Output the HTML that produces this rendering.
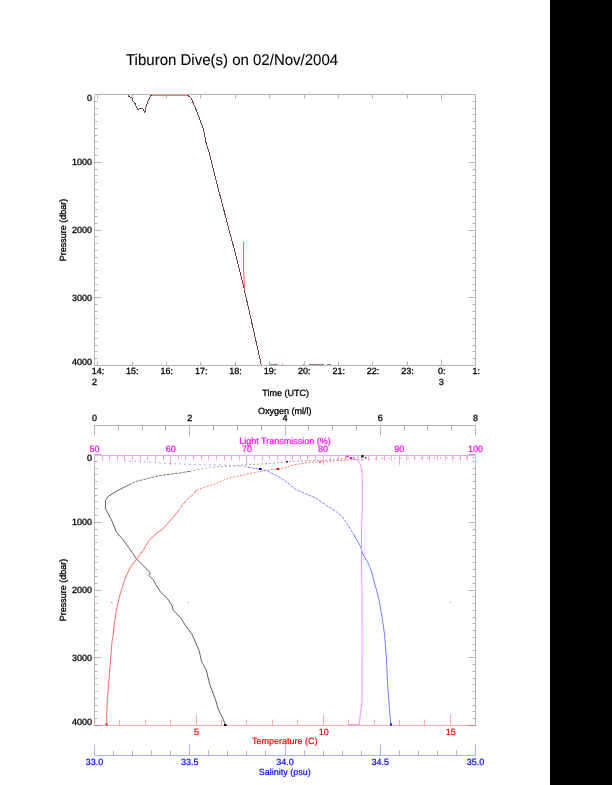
<!DOCTYPE html>
<html><head><meta charset="utf-8"><style>
html,body{margin:0;padding:0;background:#fff;}
body{width:612px;height:785px;overflow:hidden;position:relative;}
svg{position:absolute;left:0;top:0;will-change:transform;}
text{font-family:"Liberation Sans",sans-serif;text-rendering:geometricPrecision;}
</style></head><body>
<svg width="612" height="785" viewBox="0 0 612 785">
<rect x="0" y="0" width="612" height="785" fill="#fff"/>
<rect x="550" y="0" width="62" height="785" fill="#000"/>
<text transform="translate(126,64.8) scale(0.968,1)" x="0" y="0" font-size="15.5" fill="#000" stroke="#000" stroke-width="0.1">Tiburon Dive(s) on 02/Nov/2004</text>
<line x1="94.5" y1="94.5" x2="475.5" y2="94.5" stroke="#b4b4b4" stroke-width="1" />
<line x1="94.5" y1="365.5" x2="475.5" y2="365.5" stroke="#b4b4b4" stroke-width="1" />
<line x1="94.5" y1="94.5" x2="94.5" y2="365.5" stroke="#b4b4b4" stroke-width="1" />
<line x1="475.5" y1="94.5" x2="475.5" y2="365.5" stroke="#b4b4b4" stroke-width="1" />
<line x1="94.5" y1="94.5" x2="101.5" y2="94.5" stroke="#b4b4b4" stroke-width="1" />
<line x1="468.5" y1="94.5" x2="475.5" y2="94.5" stroke="#b4b4b4" stroke-width="1" />
<line x1="94.5" y1="101.5" x2="97.5" y2="101.5" stroke="#b4b4b4" stroke-width="1" />
<line x1="472.5" y1="101.5" x2="475.5" y2="101.5" stroke="#b4b4b4" stroke-width="1" />
<line x1="94.5" y1="108.5" x2="97.5" y2="108.5" stroke="#b4b4b4" stroke-width="1" />
<line x1="472.5" y1="108.5" x2="475.5" y2="108.5" stroke="#b4b4b4" stroke-width="1" />
<line x1="94.5" y1="114.5" x2="97.5" y2="114.5" stroke="#b4b4b4" stroke-width="1" />
<line x1="472.5" y1="114.5" x2="475.5" y2="114.5" stroke="#b4b4b4" stroke-width="1" />
<line x1="94.5" y1="121.5" x2="97.5" y2="121.5" stroke="#b4b4b4" stroke-width="1" />
<line x1="472.5" y1="121.5" x2="475.5" y2="121.5" stroke="#b4b4b4" stroke-width="1" />
<line x1="94.5" y1="128.5" x2="97.5" y2="128.5" stroke="#b4b4b4" stroke-width="1" />
<line x1="472.5" y1="128.5" x2="475.5" y2="128.5" stroke="#b4b4b4" stroke-width="1" />
<line x1="94.5" y1="135.5" x2="97.5" y2="135.5" stroke="#b4b4b4" stroke-width="1" />
<line x1="472.5" y1="135.5" x2="475.5" y2="135.5" stroke="#b4b4b4" stroke-width="1" />
<line x1="94.5" y1="141.5" x2="97.5" y2="141.5" stroke="#b4b4b4" stroke-width="1" />
<line x1="472.5" y1="141.5" x2="475.5" y2="141.5" stroke="#b4b4b4" stroke-width="1" />
<line x1="94.5" y1="148.5" x2="97.5" y2="148.5" stroke="#b4b4b4" stroke-width="1" />
<line x1="472.5" y1="148.5" x2="475.5" y2="148.5" stroke="#b4b4b4" stroke-width="1" />
<line x1="94.5" y1="155.5" x2="97.5" y2="155.5" stroke="#b4b4b4" stroke-width="1" />
<line x1="472.5" y1="155.5" x2="475.5" y2="155.5" stroke="#b4b4b4" stroke-width="1" />
<line x1="94.5" y1="162.5" x2="101.5" y2="162.5" stroke="#b4b4b4" stroke-width="1" />
<line x1="468.5" y1="162.5" x2="475.5" y2="162.5" stroke="#b4b4b4" stroke-width="1" />
<line x1="94.5" y1="169.5" x2="97.5" y2="169.5" stroke="#b4b4b4" stroke-width="1" />
<line x1="472.5" y1="169.5" x2="475.5" y2="169.5" stroke="#b4b4b4" stroke-width="1" />
<line x1="94.5" y1="175.5" x2="97.5" y2="175.5" stroke="#b4b4b4" stroke-width="1" />
<line x1="472.5" y1="175.5" x2="475.5" y2="175.5" stroke="#b4b4b4" stroke-width="1" />
<line x1="94.5" y1="182.5" x2="97.5" y2="182.5" stroke="#b4b4b4" stroke-width="1" />
<line x1="472.5" y1="182.5" x2="475.5" y2="182.5" stroke="#b4b4b4" stroke-width="1" />
<line x1="94.5" y1="189.5" x2="97.5" y2="189.5" stroke="#b4b4b4" stroke-width="1" />
<line x1="472.5" y1="189.5" x2="475.5" y2="189.5" stroke="#b4b4b4" stroke-width="1" />
<line x1="94.5" y1="196.5" x2="97.5" y2="196.5" stroke="#b4b4b4" stroke-width="1" />
<line x1="472.5" y1="196.5" x2="475.5" y2="196.5" stroke="#b4b4b4" stroke-width="1" />
<line x1="94.5" y1="202.5" x2="97.5" y2="202.5" stroke="#b4b4b4" stroke-width="1" />
<line x1="472.5" y1="202.5" x2="475.5" y2="202.5" stroke="#b4b4b4" stroke-width="1" />
<line x1="94.5" y1="209.5" x2="97.5" y2="209.5" stroke="#b4b4b4" stroke-width="1" />
<line x1="472.5" y1="209.5" x2="475.5" y2="209.5" stroke="#b4b4b4" stroke-width="1" />
<line x1="94.5" y1="216.5" x2="97.5" y2="216.5" stroke="#b4b4b4" stroke-width="1" />
<line x1="472.5" y1="216.5" x2="475.5" y2="216.5" stroke="#b4b4b4" stroke-width="1" />
<line x1="94.5" y1="223.5" x2="97.5" y2="223.5" stroke="#b4b4b4" stroke-width="1" />
<line x1="472.5" y1="223.5" x2="475.5" y2="223.5" stroke="#b4b4b4" stroke-width="1" />
<line x1="94.5" y1="230.5" x2="101.5" y2="230.5" stroke="#b4b4b4" stroke-width="1" />
<line x1="468.5" y1="230.5" x2="475.5" y2="230.5" stroke="#b4b4b4" stroke-width="1" />
<line x1="94.5" y1="236.5" x2="97.5" y2="236.5" stroke="#b4b4b4" stroke-width="1" />
<line x1="472.5" y1="236.5" x2="475.5" y2="236.5" stroke="#b4b4b4" stroke-width="1" />
<line x1="94.5" y1="243.5" x2="97.5" y2="243.5" stroke="#b4b4b4" stroke-width="1" />
<line x1="472.5" y1="243.5" x2="475.5" y2="243.5" stroke="#b4b4b4" stroke-width="1" />
<line x1="94.5" y1="250.5" x2="97.5" y2="250.5" stroke="#b4b4b4" stroke-width="1" />
<line x1="472.5" y1="250.5" x2="475.5" y2="250.5" stroke="#b4b4b4" stroke-width="1" />
<line x1="94.5" y1="257.5" x2="97.5" y2="257.5" stroke="#b4b4b4" stroke-width="1" />
<line x1="472.5" y1="257.5" x2="475.5" y2="257.5" stroke="#b4b4b4" stroke-width="1" />
<line x1="94.5" y1="263.5" x2="97.5" y2="263.5" stroke="#b4b4b4" stroke-width="1" />
<line x1="472.5" y1="263.5" x2="475.5" y2="263.5" stroke="#b4b4b4" stroke-width="1" />
<line x1="94.5" y1="270.5" x2="97.5" y2="270.5" stroke="#b4b4b4" stroke-width="1" />
<line x1="472.5" y1="270.5" x2="475.5" y2="270.5" stroke="#b4b4b4" stroke-width="1" />
<line x1="94.5" y1="277.5" x2="97.5" y2="277.5" stroke="#b4b4b4" stroke-width="1" />
<line x1="472.5" y1="277.5" x2="475.5" y2="277.5" stroke="#b4b4b4" stroke-width="1" />
<line x1="94.5" y1="284.5" x2="97.5" y2="284.5" stroke="#b4b4b4" stroke-width="1" />
<line x1="472.5" y1="284.5" x2="475.5" y2="284.5" stroke="#b4b4b4" stroke-width="1" />
<line x1="94.5" y1="290.5" x2="97.5" y2="290.5" stroke="#b4b4b4" stroke-width="1" />
<line x1="472.5" y1="290.5" x2="475.5" y2="290.5" stroke="#b4b4b4" stroke-width="1" />
<line x1="94.5" y1="297.5" x2="101.5" y2="297.5" stroke="#b4b4b4" stroke-width="1" />
<line x1="468.5" y1="297.5" x2="475.5" y2="297.5" stroke="#b4b4b4" stroke-width="1" />
<line x1="94.5" y1="304.5" x2="97.5" y2="304.5" stroke="#b4b4b4" stroke-width="1" />
<line x1="472.5" y1="304.5" x2="475.5" y2="304.5" stroke="#b4b4b4" stroke-width="1" />
<line x1="94.5" y1="311.5" x2="97.5" y2="311.5" stroke="#b4b4b4" stroke-width="1" />
<line x1="472.5" y1="311.5" x2="475.5" y2="311.5" stroke="#b4b4b4" stroke-width="1" />
<line x1="94.5" y1="318.5" x2="97.5" y2="318.5" stroke="#b4b4b4" stroke-width="1" />
<line x1="472.5" y1="318.5" x2="475.5" y2="318.5" stroke="#b4b4b4" stroke-width="1" />
<line x1="94.5" y1="324.5" x2="97.5" y2="324.5" stroke="#b4b4b4" stroke-width="1" />
<line x1="472.5" y1="324.5" x2="475.5" y2="324.5" stroke="#b4b4b4" stroke-width="1" />
<line x1="94.5" y1="331.5" x2="97.5" y2="331.5" stroke="#b4b4b4" stroke-width="1" />
<line x1="472.5" y1="331.5" x2="475.5" y2="331.5" stroke="#b4b4b4" stroke-width="1" />
<line x1="94.5" y1="338.5" x2="97.5" y2="338.5" stroke="#b4b4b4" stroke-width="1" />
<line x1="472.5" y1="338.5" x2="475.5" y2="338.5" stroke="#b4b4b4" stroke-width="1" />
<line x1="94.5" y1="345.5" x2="97.5" y2="345.5" stroke="#b4b4b4" stroke-width="1" />
<line x1="472.5" y1="345.5" x2="475.5" y2="345.5" stroke="#b4b4b4" stroke-width="1" />
<line x1="94.5" y1="351.5" x2="97.5" y2="351.5" stroke="#b4b4b4" stroke-width="1" />
<line x1="472.5" y1="351.5" x2="475.5" y2="351.5" stroke="#b4b4b4" stroke-width="1" />
<line x1="94.5" y1="358.5" x2="97.5" y2="358.5" stroke="#b4b4b4" stroke-width="1" />
<line x1="472.5" y1="358.5" x2="475.5" y2="358.5" stroke="#b4b4b4" stroke-width="1" />
<line x1="94.5" y1="365.5" x2="101.5" y2="365.5" stroke="#b4b4b4" stroke-width="1" />
<line x1="468.5" y1="365.5" x2="475.5" y2="365.5" stroke="#b4b4b4" stroke-width="1" />
<text x="92" y="101.4" font-size="9" fill="#000" stroke="#000" stroke-width="0.3" text-anchor="end" >0</text>
<text x="92" y="165.3" font-size="9" fill="#000" stroke="#000" stroke-width="0.3" text-anchor="end" >1000</text>
<text x="92" y="233.3" font-size="9" fill="#000" stroke="#000" stroke-width="0.3" text-anchor="end" >2000</text>
<text x="92" y="301.3" font-size="9" fill="#000" stroke="#000" stroke-width="0.3" text-anchor="end" >3000</text>
<text x="92" y="365.4" font-size="9" fill="#000" stroke="#000" stroke-width="0.3" text-anchor="end" >4000</text>
<line x1="97.5" y1="94.5" x2="97.5" y2="98.5" stroke="#b4b4b4" stroke-width="1" />
<line x1="97.5" y1="361.5" x2="97.5" y2="365.5" stroke="#b4b4b4" stroke-width="1" />
<text x="98.0" y="374.3" font-size="9" fill="#000" stroke="#000" stroke-width="0.3" text-anchor="middle" >14:</text>
<line x1="132.5" y1="94.5" x2="132.5" y2="98.5" stroke="#b4b4b4" stroke-width="1" />
<line x1="132.5" y1="361.5" x2="132.5" y2="365.5" stroke="#b4b4b4" stroke-width="1" />
<text x="132.38" y="374.3" font-size="9" fill="#000" stroke="#000" stroke-width="0.3" text-anchor="middle" >15:</text>
<line x1="166.5" y1="94.5" x2="166.5" y2="98.5" stroke="#b4b4b4" stroke-width="1" />
<line x1="166.5" y1="361.5" x2="166.5" y2="365.5" stroke="#b4b4b4" stroke-width="1" />
<text x="166.76" y="374.3" font-size="9" fill="#000" stroke="#000" stroke-width="0.3" text-anchor="middle" >16:</text>
<line x1="200.5" y1="94.5" x2="200.5" y2="98.5" stroke="#b4b4b4" stroke-width="1" />
<line x1="200.5" y1="361.5" x2="200.5" y2="365.5" stroke="#b4b4b4" stroke-width="1" />
<text x="201.14000000000001" y="374.3" font-size="9" fill="#000" stroke="#000" stroke-width="0.3" text-anchor="middle" >17:</text>
<line x1="235.5" y1="94.5" x2="235.5" y2="98.5" stroke="#b4b4b4" stroke-width="1" />
<line x1="235.5" y1="361.5" x2="235.5" y2="365.5" stroke="#b4b4b4" stroke-width="1" />
<text x="235.52" y="374.3" font-size="9" fill="#000" stroke="#000" stroke-width="0.3" text-anchor="middle" >18:</text>
<line x1="269.5" y1="94.5" x2="269.5" y2="98.5" stroke="#b4b4b4" stroke-width="1" />
<line x1="269.5" y1="361.5" x2="269.5" y2="365.5" stroke="#b4b4b4" stroke-width="1" />
<text x="269.9" y="374.3" font-size="9" fill="#000" stroke="#000" stroke-width="0.3" text-anchor="middle" >19:</text>
<line x1="304.5" y1="94.5" x2="304.5" y2="98.5" stroke="#b4b4b4" stroke-width="1" />
<line x1="304.5" y1="361.5" x2="304.5" y2="365.5" stroke="#b4b4b4" stroke-width="1" />
<text x="304.28000000000003" y="374.3" font-size="9" fill="#000" stroke="#000" stroke-width="0.3" text-anchor="middle" >20:</text>
<line x1="338.5" y1="94.5" x2="338.5" y2="98.5" stroke="#b4b4b4" stroke-width="1" />
<line x1="338.5" y1="361.5" x2="338.5" y2="365.5" stroke="#b4b4b4" stroke-width="1" />
<text x="338.66" y="374.3" font-size="9" fill="#000" stroke="#000" stroke-width="0.3" text-anchor="middle" >21:</text>
<line x1="372.5" y1="94.5" x2="372.5" y2="98.5" stroke="#b4b4b4" stroke-width="1" />
<line x1="372.5" y1="361.5" x2="372.5" y2="365.5" stroke="#b4b4b4" stroke-width="1" />
<text x="373.04" y="374.3" font-size="9" fill="#000" stroke="#000" stroke-width="0.3" text-anchor="middle" >22:</text>
<line x1="407.5" y1="94.5" x2="407.5" y2="98.5" stroke="#b4b4b4" stroke-width="1" />
<line x1="407.5" y1="361.5" x2="407.5" y2="365.5" stroke="#b4b4b4" stroke-width="1" />
<text x="407.42" y="374.3" font-size="9" fill="#000" stroke="#000" stroke-width="0.3" text-anchor="middle" >23:</text>
<line x1="441.5" y1="94.5" x2="441.5" y2="100.5" stroke="#b4b4b4" stroke-width="1" />
<line x1="441.5" y1="359.5" x2="441.5" y2="365.5" stroke="#b4b4b4" stroke-width="1" />
<text x="441.8" y="374.3" font-size="9" fill="#000" stroke="#000" stroke-width="0.3" text-anchor="middle" >0:</text>
<line x1="475.5" y1="94.5" x2="475.5" y2="98.5" stroke="#b4b4b4" stroke-width="1" />
<line x1="475.5" y1="361.5" x2="475.5" y2="365.5" stroke="#b4b4b4" stroke-width="1" />
<text x="476.18" y="374.3" font-size="9" fill="#000" stroke="#000" stroke-width="0.3" text-anchor="middle" >1:</text>
<text x="92" y="384.6" font-size="9" fill="#000" stroke="#000" stroke-width="0.3" text-anchor="start" >2</text>
<text x="438.7" y="384.6" font-size="9" fill="#000" stroke="#000" stroke-width="0.3" text-anchor="start" >3</text>
<text x="285.6" y="395.7" font-size="9" fill="#000" stroke="#000" stroke-width="0.3" text-anchor="middle" >Time (UTC)</text>
<text x="65.6" y="230" font-size="9" fill="#000" stroke="#000" stroke-width="0.3" text-anchor="middle" transform="rotate(-90 65.6 230)">Pressure (dbar)</text>
<polyline points="128.2,95 128.7,96.3 131.8,97.6 132.6,100.2 134.5,102.5 135.5,104.6 136.5,107.5 137.6,109.1 142.8,108.6 143.9,110.9 144.4,113 145.4,110.9 146,106.7 147.5,102.5 148.6,99.4 150.7,95.8 152.2,95.2 187.3,95 191,98.1 195.1,107.2 200.2,120.5 203.3,128.6 206.3,144 209.4,153.1 212.6,166.7 218,188 224.2,211.2 228.7,229 234.6,250.2 243,283.8 253.5,330 256.5,343.7 261.4,365.3" fill="none" stroke="#6e4444" stroke-width="1" stroke-linejoin="round" shape-rendering="crispEdges"/>
<polyline points="152.2,95.5 187.3,95.5" fill="none" stroke="#ff7070" stroke-width="1" stroke-linejoin="round" />
<polyline points="243.6,242 243.6,270 244.6,290" fill="none" stroke="#ff5a5a" stroke-width="1" stroke-linejoin="round" />
<rect x="270" y="364" width="8" height="1" fill="#704848" opacity="0.7"/>
<rect x="282" y="364" width="1" height="1" fill="#704848" opacity="0.7"/>
<rect x="303" y="364" width="1" height="1" fill="#704848" opacity="0.7"/>
<rect x="309" y="364" width="15" height="1" fill="#704848" opacity="0.7"/>
<rect x="327" y="364" width="4" height="1" fill="#704848" opacity="0.7"/>
<line x1="94.5" y1="454.5" x2="94.5" y2="725.5" stroke="#b4b4b4" stroke-width="1" />
<line x1="475.5" y1="454.5" x2="475.5" y2="725.5" stroke="#b4b4b4" stroke-width="1" />
<line x1="94.5" y1="725.5" x2="475.5" y2="725.5" stroke="#b4b4b4" stroke-width="1" />
<line x1="94.5" y1="454.5" x2="101.5" y2="454.5" stroke="#b4b4b4" stroke-width="1" />
<line x1="468.5" y1="454.5" x2="475.5" y2="454.5" stroke="#b4b4b4" stroke-width="1" />
<line x1="94.5" y1="461.5" x2="97.5" y2="461.5" stroke="#b4b4b4" stroke-width="1" />
<line x1="472.5" y1="461.5" x2="475.5" y2="461.5" stroke="#b4b4b4" stroke-width="1" />
<line x1="94.5" y1="468.5" x2="97.5" y2="468.5" stroke="#b4b4b4" stroke-width="1" />
<line x1="472.5" y1="468.5" x2="475.5" y2="468.5" stroke="#b4b4b4" stroke-width="1" />
<line x1="94.5" y1="474.5" x2="97.5" y2="474.5" stroke="#b4b4b4" stroke-width="1" />
<line x1="472.5" y1="474.5" x2="475.5" y2="474.5" stroke="#b4b4b4" stroke-width="1" />
<line x1="94.5" y1="481.5" x2="97.5" y2="481.5" stroke="#b4b4b4" stroke-width="1" />
<line x1="472.5" y1="481.5" x2="475.5" y2="481.5" stroke="#b4b4b4" stroke-width="1" />
<line x1="94.5" y1="488.5" x2="97.5" y2="488.5" stroke="#b4b4b4" stroke-width="1" />
<line x1="472.5" y1="488.5" x2="475.5" y2="488.5" stroke="#b4b4b4" stroke-width="1" />
<line x1="94.5" y1="495.5" x2="97.5" y2="495.5" stroke="#b4b4b4" stroke-width="1" />
<line x1="472.5" y1="495.5" x2="475.5" y2="495.5" stroke="#b4b4b4" stroke-width="1" />
<line x1="94.5" y1="501.5" x2="97.5" y2="501.5" stroke="#b4b4b4" stroke-width="1" />
<line x1="472.5" y1="501.5" x2="475.5" y2="501.5" stroke="#b4b4b4" stroke-width="1" />
<line x1="94.5" y1="508.5" x2="97.5" y2="508.5" stroke="#b4b4b4" stroke-width="1" />
<line x1="472.5" y1="508.5" x2="475.5" y2="508.5" stroke="#b4b4b4" stroke-width="1" />
<line x1="94.5" y1="515.5" x2="97.5" y2="515.5" stroke="#b4b4b4" stroke-width="1" />
<line x1="472.5" y1="515.5" x2="475.5" y2="515.5" stroke="#b4b4b4" stroke-width="1" />
<line x1="94.5" y1="522.5" x2="101.5" y2="522.5" stroke="#b4b4b4" stroke-width="1" />
<line x1="468.5" y1="522.5" x2="475.5" y2="522.5" stroke="#b4b4b4" stroke-width="1" />
<line x1="94.5" y1="529.5" x2="97.5" y2="529.5" stroke="#b4b4b4" stroke-width="1" />
<line x1="472.5" y1="529.5" x2="475.5" y2="529.5" stroke="#b4b4b4" stroke-width="1" />
<line x1="94.5" y1="535.5" x2="97.5" y2="535.5" stroke="#b4b4b4" stroke-width="1" />
<line x1="472.5" y1="535.5" x2="475.5" y2="535.5" stroke="#b4b4b4" stroke-width="1" />
<line x1="94.5" y1="542.5" x2="97.5" y2="542.5" stroke="#b4b4b4" stroke-width="1" />
<line x1="472.5" y1="542.5" x2="475.5" y2="542.5" stroke="#b4b4b4" stroke-width="1" />
<line x1="94.5" y1="549.5" x2="97.5" y2="549.5" stroke="#b4b4b4" stroke-width="1" />
<line x1="472.5" y1="549.5" x2="475.5" y2="549.5" stroke="#b4b4b4" stroke-width="1" />
<line x1="94.5" y1="556.5" x2="97.5" y2="556.5" stroke="#b4b4b4" stroke-width="1" />
<line x1="472.5" y1="556.5" x2="475.5" y2="556.5" stroke="#b4b4b4" stroke-width="1" />
<line x1="94.5" y1="562.5" x2="97.5" y2="562.5" stroke="#b4b4b4" stroke-width="1" />
<line x1="472.5" y1="562.5" x2="475.5" y2="562.5" stroke="#b4b4b4" stroke-width="1" />
<line x1="94.5" y1="569.5" x2="97.5" y2="569.5" stroke="#b4b4b4" stroke-width="1" />
<line x1="472.5" y1="569.5" x2="475.5" y2="569.5" stroke="#b4b4b4" stroke-width="1" />
<line x1="94.5" y1="576.5" x2="97.5" y2="576.5" stroke="#b4b4b4" stroke-width="1" />
<line x1="472.5" y1="576.5" x2="475.5" y2="576.5" stroke="#b4b4b4" stroke-width="1" />
<line x1="94.5" y1="583.5" x2="97.5" y2="583.5" stroke="#b4b4b4" stroke-width="1" />
<line x1="472.5" y1="583.5" x2="475.5" y2="583.5" stroke="#b4b4b4" stroke-width="1" />
<line x1="94.5" y1="590.5" x2="101.5" y2="590.5" stroke="#b4b4b4" stroke-width="1" />
<line x1="468.5" y1="590.5" x2="475.5" y2="590.5" stroke="#b4b4b4" stroke-width="1" />
<line x1="94.5" y1="596.5" x2="97.5" y2="596.5" stroke="#b4b4b4" stroke-width="1" />
<line x1="472.5" y1="596.5" x2="475.5" y2="596.5" stroke="#b4b4b4" stroke-width="1" />
<line x1="94.5" y1="603.5" x2="97.5" y2="603.5" stroke="#b4b4b4" stroke-width="1" />
<line x1="472.5" y1="603.5" x2="475.5" y2="603.5" stroke="#b4b4b4" stroke-width="1" />
<line x1="94.5" y1="610.5" x2="97.5" y2="610.5" stroke="#b4b4b4" stroke-width="1" />
<line x1="472.5" y1="610.5" x2="475.5" y2="610.5" stroke="#b4b4b4" stroke-width="1" />
<line x1="94.5" y1="617.5" x2="97.5" y2="617.5" stroke="#b4b4b4" stroke-width="1" />
<line x1="472.5" y1="617.5" x2="475.5" y2="617.5" stroke="#b4b4b4" stroke-width="1" />
<line x1="94.5" y1="623.5" x2="97.5" y2="623.5" stroke="#b4b4b4" stroke-width="1" />
<line x1="472.5" y1="623.5" x2="475.5" y2="623.5" stroke="#b4b4b4" stroke-width="1" />
<line x1="94.5" y1="630.5" x2="97.5" y2="630.5" stroke="#b4b4b4" stroke-width="1" />
<line x1="472.5" y1="630.5" x2="475.5" y2="630.5" stroke="#b4b4b4" stroke-width="1" />
<line x1="94.5" y1="637.5" x2="97.5" y2="637.5" stroke="#b4b4b4" stroke-width="1" />
<line x1="472.5" y1="637.5" x2="475.5" y2="637.5" stroke="#b4b4b4" stroke-width="1" />
<line x1="94.5" y1="644.5" x2="97.5" y2="644.5" stroke="#b4b4b4" stroke-width="1" />
<line x1="472.5" y1="644.5" x2="475.5" y2="644.5" stroke="#b4b4b4" stroke-width="1" />
<line x1="94.5" y1="650.5" x2="97.5" y2="650.5" stroke="#b4b4b4" stroke-width="1" />
<line x1="472.5" y1="650.5" x2="475.5" y2="650.5" stroke="#b4b4b4" stroke-width="1" />
<line x1="94.5" y1="657.5" x2="101.5" y2="657.5" stroke="#b4b4b4" stroke-width="1" />
<line x1="468.5" y1="657.5" x2="475.5" y2="657.5" stroke="#b4b4b4" stroke-width="1" />
<line x1="94.5" y1="664.5" x2="97.5" y2="664.5" stroke="#b4b4b4" stroke-width="1" />
<line x1="472.5" y1="664.5" x2="475.5" y2="664.5" stroke="#b4b4b4" stroke-width="1" />
<line x1="94.5" y1="671.5" x2="97.5" y2="671.5" stroke="#b4b4b4" stroke-width="1" />
<line x1="472.5" y1="671.5" x2="475.5" y2="671.5" stroke="#b4b4b4" stroke-width="1" />
<line x1="94.5" y1="678.5" x2="97.5" y2="678.5" stroke="#b4b4b4" stroke-width="1" />
<line x1="472.5" y1="678.5" x2="475.5" y2="678.5" stroke="#b4b4b4" stroke-width="1" />
<line x1="94.5" y1="684.5" x2="97.5" y2="684.5" stroke="#b4b4b4" stroke-width="1" />
<line x1="472.5" y1="684.5" x2="475.5" y2="684.5" stroke="#b4b4b4" stroke-width="1" />
<line x1="94.5" y1="691.5" x2="97.5" y2="691.5" stroke="#b4b4b4" stroke-width="1" />
<line x1="472.5" y1="691.5" x2="475.5" y2="691.5" stroke="#b4b4b4" stroke-width="1" />
<line x1="94.5" y1="698.5" x2="97.5" y2="698.5" stroke="#b4b4b4" stroke-width="1" />
<line x1="472.5" y1="698.5" x2="475.5" y2="698.5" stroke="#b4b4b4" stroke-width="1" />
<line x1="94.5" y1="705.5" x2="97.5" y2="705.5" stroke="#b4b4b4" stroke-width="1" />
<line x1="472.5" y1="705.5" x2="475.5" y2="705.5" stroke="#b4b4b4" stroke-width="1" />
<line x1="94.5" y1="711.5" x2="97.5" y2="711.5" stroke="#b4b4b4" stroke-width="1" />
<line x1="472.5" y1="711.5" x2="475.5" y2="711.5" stroke="#b4b4b4" stroke-width="1" />
<line x1="94.5" y1="718.5" x2="97.5" y2="718.5" stroke="#b4b4b4" stroke-width="1" />
<line x1="472.5" y1="718.5" x2="475.5" y2="718.5" stroke="#b4b4b4" stroke-width="1" />
<line x1="94.5" y1="725.5" x2="101.5" y2="725.5" stroke="#b4b4b4" stroke-width="1" />
<line x1="468.5" y1="725.5" x2="475.5" y2="725.5" stroke="#b4b4b4" stroke-width="1" />
<text x="92" y="461.4" font-size="9" fill="#000" stroke="#000" stroke-width="0.3" text-anchor="end" >0</text>
<text x="92" y="525.3" font-size="9" fill="#000" stroke="#000" stroke-width="0.3" text-anchor="end" >1000</text>
<text x="92" y="593.3" font-size="9" fill="#000" stroke="#000" stroke-width="0.3" text-anchor="end" >2000</text>
<text x="92" y="661.3" font-size="9" fill="#000" stroke="#000" stroke-width="0.3" text-anchor="end" >3000</text>
<text x="92" y="725.4" font-size="9" fill="#000" stroke="#000" stroke-width="0.3" text-anchor="end" >4000</text>
<text x="65.6" y="590" font-size="9" fill="#000" stroke="#000" stroke-width="0.3" text-anchor="middle" transform="rotate(-90 65.6 590)">Pressure (dbar)</text>
<line x1="94.5" y1="425.5" x2="475.5" y2="425.5" stroke="#b4b4b4" stroke-width="1" />
<line x1="94.5" y1="425.5" x2="94.5" y2="435.5" stroke="#b4b4b4" stroke-width="1" />
<line x1="118.5" y1="425.5" x2="118.5" y2="430.5" stroke="#b4b4b4" stroke-width="1" />
<line x1="142.5" y1="425.5" x2="142.5" y2="430.5" stroke="#b4b4b4" stroke-width="1" />
<line x1="165.5" y1="425.5" x2="165.5" y2="430.5" stroke="#b4b4b4" stroke-width="1" />
<line x1="189.5" y1="425.5" x2="189.5" y2="435.5" stroke="#b4b4b4" stroke-width="1" />
<line x1="213.5" y1="425.5" x2="213.5" y2="430.5" stroke="#b4b4b4" stroke-width="1" />
<line x1="237.5" y1="425.5" x2="237.5" y2="430.5" stroke="#b4b4b4" stroke-width="1" />
<line x1="261.5" y1="425.5" x2="261.5" y2="430.5" stroke="#b4b4b4" stroke-width="1" />
<line x1="285.5" y1="425.5" x2="285.5" y2="435.5" stroke="#b4b4b4" stroke-width="1" />
<line x1="308.5" y1="425.5" x2="308.5" y2="430.5" stroke="#b4b4b4" stroke-width="1" />
<line x1="332.5" y1="425.5" x2="332.5" y2="430.5" stroke="#b4b4b4" stroke-width="1" />
<line x1="356.5" y1="425.5" x2="356.5" y2="430.5" stroke="#b4b4b4" stroke-width="1" />
<line x1="380.5" y1="425.5" x2="380.5" y2="435.5" stroke="#b4b4b4" stroke-width="1" />
<line x1="404.5" y1="425.5" x2="404.5" y2="430.5" stroke="#b4b4b4" stroke-width="1" />
<line x1="427.5" y1="425.5" x2="427.5" y2="430.5" stroke="#b4b4b4" stroke-width="1" />
<line x1="451.5" y1="425.5" x2="451.5" y2="430.5" stroke="#b4b4b4" stroke-width="1" />
<line x1="475.5" y1="425.5" x2="475.5" y2="435.5" stroke="#b4b4b4" stroke-width="1" />
<text x="94.5" y="421.0" font-size="9" fill="#000" stroke="#000" stroke-width="0.3" text-anchor="middle" >0</text>
<text x="189.75" y="421.0" font-size="9" fill="#000" stroke="#000" stroke-width="0.3" text-anchor="middle" >2</text>
<text x="285.0" y="421.0" font-size="9" fill="#000" stroke="#000" stroke-width="0.3" text-anchor="middle" >4</text>
<text x="380.25" y="421.0" font-size="9" fill="#000" stroke="#000" stroke-width="0.3" text-anchor="middle" >6</text>
<text x="475.5" y="421.0" font-size="9" fill="#000" stroke="#000" stroke-width="0.3" text-anchor="middle" >8</text>
<text x="284.8" y="414.2" font-size="9" fill="#000" stroke="#000" stroke-width="0.3" text-anchor="middle" >Oxygen (ml/l)</text>
<line x1="94.5" y1="455.5" x2="475.5" y2="455.5" stroke="#ffa0f5" stroke-width="1" />
<line x1="94.5" y1="455.5" x2="94.5" y2="465.5" stroke="#ffa0f5" stroke-width="1" />
<line x1="102.5" y1="455.5" x2="102.5" y2="460.5" stroke="#ffa0f5" stroke-width="1" />
<line x1="109.5" y1="455.5" x2="109.5" y2="460.5" stroke="#ffa0f5" stroke-width="1" />
<line x1="117.5" y1="455.5" x2="117.5" y2="460.5" stroke="#ffa0f5" stroke-width="1" />
<line x1="124.5" y1="455.5" x2="124.5" y2="460.5" stroke="#ffa0f5" stroke-width="1" />
<line x1="132.5" y1="455.5" x2="132.5" y2="460.5" stroke="#ffa0f5" stroke-width="1" />
<line x1="140.5" y1="455.5" x2="140.5" y2="460.5" stroke="#ffa0f5" stroke-width="1" />
<line x1="147.5" y1="455.5" x2="147.5" y2="460.5" stroke="#ffa0f5" stroke-width="1" />
<line x1="155.5" y1="455.5" x2="155.5" y2="460.5" stroke="#ffa0f5" stroke-width="1" />
<line x1="163.5" y1="455.5" x2="163.5" y2="460.5" stroke="#ffa0f5" stroke-width="1" />
<line x1="170.5" y1="455.5" x2="170.5" y2="465.5" stroke="#ffa0f5" stroke-width="1" />
<line x1="178.5" y1="455.5" x2="178.5" y2="460.5" stroke="#ffa0f5" stroke-width="1" />
<line x1="185.5" y1="455.5" x2="185.5" y2="460.5" stroke="#ffa0f5" stroke-width="1" />
<line x1="193.5" y1="455.5" x2="193.5" y2="460.5" stroke="#ffa0f5" stroke-width="1" />
<line x1="201.5" y1="455.5" x2="201.5" y2="460.5" stroke="#ffa0f5" stroke-width="1" />
<line x1="208.5" y1="455.5" x2="208.5" y2="460.5" stroke="#ffa0f5" stroke-width="1" />
<line x1="216.5" y1="455.5" x2="216.5" y2="460.5" stroke="#ffa0f5" stroke-width="1" />
<line x1="224.5" y1="455.5" x2="224.5" y2="460.5" stroke="#ffa0f5" stroke-width="1" />
<line x1="231.5" y1="455.5" x2="231.5" y2="460.5" stroke="#ffa0f5" stroke-width="1" />
<line x1="239.5" y1="455.5" x2="239.5" y2="460.5" stroke="#ffa0f5" stroke-width="1" />
<line x1="246.5" y1="455.5" x2="246.5" y2="465.5" stroke="#ffa0f5" stroke-width="1" />
<line x1="254.5" y1="455.5" x2="254.5" y2="460.5" stroke="#ffa0f5" stroke-width="1" />
<line x1="262.5" y1="455.5" x2="262.5" y2="460.5" stroke="#ffa0f5" stroke-width="1" />
<line x1="269.5" y1="455.5" x2="269.5" y2="460.5" stroke="#ffa0f5" stroke-width="1" />
<line x1="277.5" y1="455.5" x2="277.5" y2="460.5" stroke="#ffa0f5" stroke-width="1" />
<line x1="285.5" y1="455.5" x2="285.5" y2="460.5" stroke="#ffa0f5" stroke-width="1" />
<line x1="292.5" y1="455.5" x2="292.5" y2="460.5" stroke="#ffa0f5" stroke-width="1" />
<line x1="300.5" y1="455.5" x2="300.5" y2="460.5" stroke="#ffa0f5" stroke-width="1" />
<line x1="307.5" y1="455.5" x2="307.5" y2="460.5" stroke="#ffa0f5" stroke-width="1" />
<line x1="315.5" y1="455.5" x2="315.5" y2="460.5" stroke="#ffa0f5" stroke-width="1" />
<line x1="323.5" y1="455.5" x2="323.5" y2="465.5" stroke="#ffa0f5" stroke-width="1" />
<line x1="330.5" y1="455.5" x2="330.5" y2="460.5" stroke="#ffa0f5" stroke-width="1" />
<line x1="338.5" y1="455.5" x2="338.5" y2="460.5" stroke="#ffa0f5" stroke-width="1" />
<line x1="345.5" y1="455.5" x2="345.5" y2="460.5" stroke="#ffa0f5" stroke-width="1" />
<line x1="353.5" y1="455.5" x2="353.5" y2="460.5" stroke="#ffa0f5" stroke-width="1" />
<line x1="361.5" y1="455.5" x2="361.5" y2="460.5" stroke="#ffa0f5" stroke-width="1" />
<line x1="368.5" y1="455.5" x2="368.5" y2="460.5" stroke="#ffa0f5" stroke-width="1" />
<line x1="376.5" y1="455.5" x2="376.5" y2="460.5" stroke="#ffa0f5" stroke-width="1" />
<line x1="384.5" y1="455.5" x2="384.5" y2="460.5" stroke="#ffa0f5" stroke-width="1" />
<line x1="391.5" y1="455.5" x2="391.5" y2="460.5" stroke="#ffa0f5" stroke-width="1" />
<line x1="399.5" y1="455.5" x2="399.5" y2="465.5" stroke="#ffa0f5" stroke-width="1" />
<line x1="406.5" y1="455.5" x2="406.5" y2="460.5" stroke="#ffa0f5" stroke-width="1" />
<line x1="414.5" y1="455.5" x2="414.5" y2="460.5" stroke="#ffa0f5" stroke-width="1" />
<line x1="422.5" y1="455.5" x2="422.5" y2="460.5" stroke="#ffa0f5" stroke-width="1" />
<line x1="429.5" y1="455.5" x2="429.5" y2="460.5" stroke="#ffa0f5" stroke-width="1" />
<line x1="437.5" y1="455.5" x2="437.5" y2="460.5" stroke="#ffa0f5" stroke-width="1" />
<line x1="445.5" y1="455.5" x2="445.5" y2="460.5" stroke="#ffa0f5" stroke-width="1" />
<line x1="452.5" y1="455.5" x2="452.5" y2="460.5" stroke="#ffa0f5" stroke-width="1" />
<line x1="460.5" y1="455.5" x2="460.5" y2="460.5" stroke="#ffa0f5" stroke-width="1" />
<line x1="467.5" y1="455.5" x2="467.5" y2="460.5" stroke="#ffa0f5" stroke-width="1" />
<line x1="475.5" y1="455.5" x2="475.5" y2="465.5" stroke="#ffa0f5" stroke-width="1" />
<text x="94.5" y="452.3" font-size="9" fill="#ff00ff" stroke="#ff00ff" stroke-width="0.2" text-anchor="middle" >50</text>
<text x="170.7" y="452.3" font-size="9" fill="#ff00ff" stroke="#ff00ff" stroke-width="0.2" text-anchor="middle" >60</text>
<text x="246.9" y="452.3" font-size="9" fill="#ff00ff" stroke="#ff00ff" stroke-width="0.2" text-anchor="middle" >70</text>
<text x="323.1" y="452.3" font-size="9" fill="#ff00ff" stroke="#ff00ff" stroke-width="0.2" text-anchor="middle" >80</text>
<text x="399.3" y="452.3" font-size="9" fill="#ff00ff" stroke="#ff00ff" stroke-width="0.2" text-anchor="middle" >90</text>
<text x="475.5" y="452.3" font-size="9" fill="#ff00ff" stroke="#ff00ff" stroke-width="0.2" text-anchor="middle" >100</text>
<text x="284.9" y="443.8" font-size="9" fill="#ff00ff" stroke="#ff00ff" stroke-width="0.2" text-anchor="middle" >Light Transmission (%)</text>
<line x1="94.5" y1="725.5" x2="475.5" y2="725.5" stroke="#ffaaaa" stroke-width="1" />
<line x1="94.5" y1="725.5" x2="94.5" y2="719.5" stroke="#ffaaaa" stroke-width="1" />
<line x1="119.5" y1="725.5" x2="119.5" y2="719.5" stroke="#ffaaaa" stroke-width="1" />
<line x1="145.5" y1="725.5" x2="145.5" y2="719.5" stroke="#ffaaaa" stroke-width="1" />
<line x1="170.5" y1="725.5" x2="170.5" y2="719.5" stroke="#ffaaaa" stroke-width="1" />
<line x1="196.5" y1="725.5" x2="196.5" y2="714.5" stroke="#ffaaaa" stroke-width="1" />
<line x1="221.5" y1="725.5" x2="221.5" y2="719.5" stroke="#ffaaaa" stroke-width="1" />
<line x1="246.5" y1="725.5" x2="246.5" y2="719.5" stroke="#ffaaaa" stroke-width="1" />
<line x1="272.5" y1="725.5" x2="272.5" y2="719.5" stroke="#ffaaaa" stroke-width="1" />
<line x1="297.5" y1="725.5" x2="297.5" y2="719.5" stroke="#ffaaaa" stroke-width="1" />
<line x1="323.5" y1="725.5" x2="323.5" y2="714.5" stroke="#ffaaaa" stroke-width="1" />
<line x1="348.5" y1="725.5" x2="348.5" y2="719.5" stroke="#ffaaaa" stroke-width="1" />
<line x1="374.5" y1="725.5" x2="374.5" y2="719.5" stroke="#ffaaaa" stroke-width="1" />
<line x1="399.5" y1="725.5" x2="399.5" y2="719.5" stroke="#ffaaaa" stroke-width="1" />
<line x1="424.5" y1="725.5" x2="424.5" y2="719.5" stroke="#ffaaaa" stroke-width="1" />
<line x1="450.5" y1="725.5" x2="450.5" y2="714.5" stroke="#ffaaaa" stroke-width="1" />
<line x1="94.5" y1="725.5" x2="101.5" y2="725.5" stroke="#b08888" stroke-width="1" />
<line x1="468.5" y1="725.5" x2="475.5" y2="725.5" stroke="#b08888" stroke-width="1" />
<line x1="475.5" y1="700" x2="475.5" y2="725.5" stroke="#b4b4b4" stroke-width="1" />
<text x="196.60000000000002" y="735.2" font-size="9" fill="#ff0000" stroke="#ff0000" stroke-width="0.2" text-anchor="middle" >5</text>
<text x="323.70000000000005" y="735.2" font-size="9" fill="#ff0000" stroke="#ff0000" stroke-width="0.2" text-anchor="middle" >10</text>
<text x="450.8" y="735.2" font-size="9" fill="#ff0000" stroke="#ff0000" stroke-width="0.2" text-anchor="middle" >15</text>
<text x="284.8" y="744.3" font-size="9" fill="#ff0000" stroke="#ff0000" stroke-width="0.2" text-anchor="middle" >Temperature (C)</text>
<line x1="94.5" y1="755.5" x2="475.5" y2="755.5" stroke="#aaaaff" stroke-width="1" />
<line x1="94.5" y1="755.5" x2="94.5" y2="744.5" stroke="#aaaaff" stroke-width="1" />
<line x1="113.5" y1="755.5" x2="113.5" y2="750.5" stroke="#aaaaff" stroke-width="1" />
<line x1="132.5" y1="755.5" x2="132.5" y2="750.5" stroke="#aaaaff" stroke-width="1" />
<line x1="151.5" y1="755.5" x2="151.5" y2="750.5" stroke="#aaaaff" stroke-width="1" />
<line x1="170.5" y1="755.5" x2="170.5" y2="750.5" stroke="#aaaaff" stroke-width="1" />
<line x1="189.5" y1="755.5" x2="189.5" y2="744.5" stroke="#aaaaff" stroke-width="1" />
<line x1="208.5" y1="755.5" x2="208.5" y2="750.5" stroke="#aaaaff" stroke-width="1" />
<line x1="227.5" y1="755.5" x2="227.5" y2="750.5" stroke="#aaaaff" stroke-width="1" />
<line x1="246.5" y1="755.5" x2="246.5" y2="750.5" stroke="#aaaaff" stroke-width="1" />
<line x1="265.5" y1="755.5" x2="265.5" y2="750.5" stroke="#aaaaff" stroke-width="1" />
<line x1="285.5" y1="755.5" x2="285.5" y2="744.5" stroke="#aaaaff" stroke-width="1" />
<line x1="304.5" y1="755.5" x2="304.5" y2="750.5" stroke="#aaaaff" stroke-width="1" />
<line x1="323.5" y1="755.5" x2="323.5" y2="750.5" stroke="#aaaaff" stroke-width="1" />
<line x1="342.5" y1="755.5" x2="342.5" y2="750.5" stroke="#aaaaff" stroke-width="1" />
<line x1="361.5" y1="755.5" x2="361.5" y2="750.5" stroke="#aaaaff" stroke-width="1" />
<line x1="380.5" y1="755.5" x2="380.5" y2="744.5" stroke="#aaaaff" stroke-width="1" />
<line x1="399.5" y1="755.5" x2="399.5" y2="750.5" stroke="#aaaaff" stroke-width="1" />
<line x1="418.5" y1="755.5" x2="418.5" y2="750.5" stroke="#aaaaff" stroke-width="1" />
<line x1="437.5" y1="755.5" x2="437.5" y2="750.5" stroke="#aaaaff" stroke-width="1" />
<line x1="456.5" y1="755.5" x2="456.5" y2="750.5" stroke="#aaaaff" stroke-width="1" />
<line x1="475.5" y1="755.5" x2="475.5" y2="744.5" stroke="#aaaaff" stroke-width="1" />
<text x="94.5" y="765.2" font-size="9" fill="#0000ff" stroke="#0000ff" stroke-width="0.2" text-anchor="middle" >33.0</text>
<text x="189.75" y="765.2" font-size="9" fill="#0000ff" stroke="#0000ff" stroke-width="0.2" text-anchor="middle" >33.5</text>
<text x="285.0" y="765.2" font-size="9" fill="#0000ff" stroke="#0000ff" stroke-width="0.2" text-anchor="middle" >34.0</text>
<text x="380.25" y="765.2" font-size="9" fill="#0000ff" stroke="#0000ff" stroke-width="0.2" text-anchor="middle" >34.5</text>
<text x="475.5" y="765.2" font-size="9" fill="#0000ff" stroke="#0000ff" stroke-width="0.2" text-anchor="middle" >35.0</text>
<text x="284.8" y="775.2" font-size="9" fill="#0000ff" stroke="#0000ff" stroke-width="0.2" text-anchor="middle" >Salinity (psu)</text>
<polyline points="362.5,456.6 333,459.8 295,461.2 286.9,461.8 269.9,463.5 254.2,464.4 215,467 210.6,467.4 200.1,469.1 189.7,471.3" fill="none" stroke="#8a8a8a" stroke-width="1" stroke-linejoin="round" stroke-dasharray="1.5 2.5"/>
<polyline points="189.7,471.3 177.9,473.3 170.1,474.3 160.9,475.3 153.1,477.2 140,480.5 136.7,481.2 128.6,485.1" fill="none" stroke="#777" stroke-width="1" stroke-linejoin="round" stroke-dasharray="3 1"/>
<polyline points="128.6,485.1 118.4,490.2 108.2,496.3 105.6,500.4 105.3,508.5 108.2,513.6 112.3,521.8 116.3,532 122.5,539.1 128.6,547.3 132.7,553.4 136.6,559.1 142.2,564.7 150.4,572.8 148.9,575.4 152.9,579.5 160.6,592.2 167.7,598.8 172.3,606 172.8,609.5 181,618.2 185.1,625 192.1,634.6 199.1,650.5 201.7,661.9 206.1,669.6 209.9,684.9 215.7,700.2 218.2,709.1 222.7,718 225.2,724.4" fill="none" stroke="#606060" stroke-width="1" stroke-linejoin="round" />
<polyline points="359.3,459.8 355.4,459.6 344.9,460.2 333.1,460.9 320.1,461.8 309.6,462.5 300.5,463.8 290,465.7 286.9,467.4 277.7,469 267.3,470.3 254.2,472.7 241.1,475.5 228.1,478.1 220,481.8 215,484 209.3,485.7 202.7,487.7 196.2,490.3" fill="none" stroke="#ff7a7a" stroke-width="1" stroke-linejoin="round" stroke-dasharray="2 1.5"/>
<polyline points="362,459.5 380,458.6 420,458 475,457.6" fill="none" stroke="#ff8080" stroke-width="1" stroke-linejoin="round" stroke-dasharray="1.5 5"/>
<polyline points="196.2,490.3 193.6,494.2 187.1,499.4 182.5,505 177.4,512.2" fill="none" stroke="#ff7070" stroke-width="1" stroke-linejoin="round" stroke-dasharray="4 1"/>
<polyline points="177.4,512.2 170.9,520 161.7,530 158,532 153.6,536.1 149,540.1 143.9,549.3 139.7,555 136.6,559.1 135.7,560 130.6,567.1 125.5,577.3 121.9,588.5 118.9,598.7 116.3,611 114.3,623.2 113.2,635 112.2,640 110.8,656.1 109.7,670.2 108.5,685.4 107.3,700.6 106.7,714.7 106.7,724.7" fill="none" stroke="#ff6a6a" stroke-width="1" stroke-linejoin="round" />
<polyline points="124.3,461 140,461.5 153,462.2 166.1,463.5 179.2,463.9 192.3,464.4 205.4,464.8 218.4,464.8 234.6,465.7 247.7,467" fill="none" stroke="#9090ff" stroke-width="1" stroke-linejoin="round" stroke-dasharray="1.5 3.5"/>
<polyline points="247.7,467 254.2,468.3 260.1,469 267.3,471 275.1,474.9 283,479.5 290,484.6 296.5,489.8 305.7,493.7 316.1,498.3 326.6,505.5 335.8,511.4 342.3,516.6 347.5,524.4 354,534.9" fill="none" stroke="#8080ff" stroke-width="1" stroke-linejoin="round" stroke-dasharray="3 1"/>
<polyline points="354,534.9 360.6,546.7 363.2,555 367.2,561.1 371.3,570.3 374.4,582.5 378.4,596.8 381,611.1 383,623.3 384.6,635 386.4,659 387.9,688.3 390.1,717.6 390.8,724.6" fill="none" stroke="#7a7aff" stroke-width="1" stroke-linejoin="round" />
<polyline points="346.9,455.9 350.8,457.9 357.9,459.8 360.5,465 361.8,470.2 362.3,478 362.2,492 362.2,512.7 361.5,530 361.5,560 362,600 362.2,642.8 361.9,703 360.5,712 359.3,724.6 348,724.6" fill="none" stroke="#ff8cff" stroke-width="1" stroke-linejoin="round" />
<rect x="224" y="724" width="2.5" height="2" fill="#000"/>
<rect x="105.5" y="723.5" width="2" height="2" fill="#f00"/>
<rect x="390" y="723.5" width="2" height="2" fill="#00f"/>
<rect x="259" y="468" width="2.5" height="2" fill="#0000ff"/>
<rect x="276.5" y="468" width="2.5" height="2" fill="#ff0000"/>
<rect x="319" y="461" width="2" height="1.5" fill="#ff3030"/>
<rect x="361.5" y="455" width="2" height="2.5" fill="#000"/>
<rect x="365" y="457" width="1.5" height="1.5" fill="#333"/>
<rect x="286" y="461" width="2" height="1.5" fill="#333"/>
<rect x="346.5" y="455.5" width="1.5" height="2" fill="#ff00ff"/>
<rect x="350" y="457" width="2" height="2" fill="#ff00ff"/>
<rect x="111" y="602" width="1.5" height="1" fill="#ff6060"/>
<rect x="188" y="602" width="1" height="1" fill="#888"/>
<rect x="450" y="602" width="1" height="1" fill="#8080ff"/>
</svg>
</body></html>
